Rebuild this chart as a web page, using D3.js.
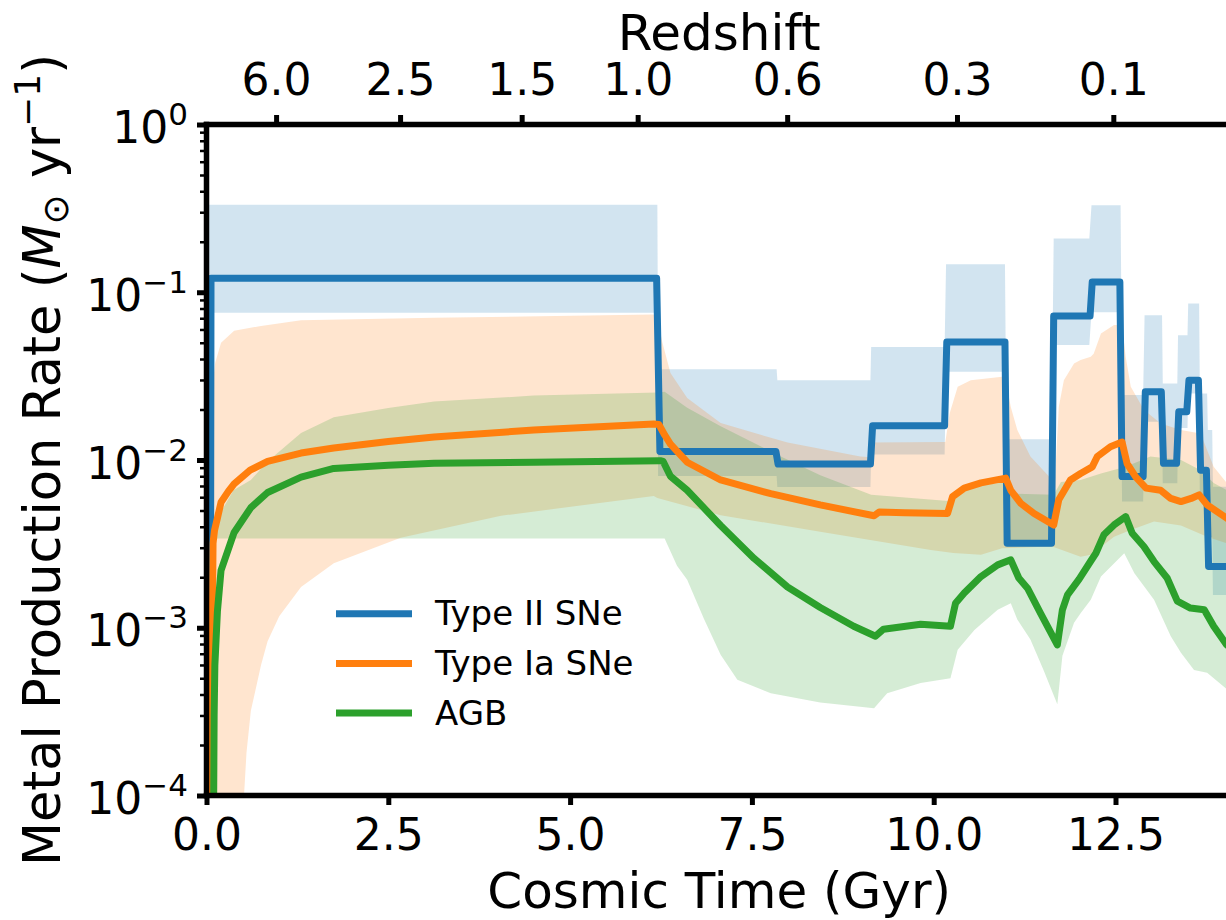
<!DOCTYPE html>
<html>
<head>
<meta charset="utf-8">
<script src="https://cdn.jsdelivr.net/npm/d3@7"></script>
<style>
  html, body { margin: 0; padding: 0; background: #fff; }
  svg { display: block; font-family: "DejaVu Sans", sans-serif; }
</style>
</head>
<body>
<svg id="chart" width="1226" height="920"></svg>
<script>
// Metal production rate (Msun / yr) against cosmic time (Gyr), per enrichment channel.

const timeTicks = [0, 2.5, 5, 7.5, 10, 12.5];
const rateTicks = [1e-4, 1e-3, 1e-2, 1e-1, 1];
const redshiftLabels = ["6.0", "2.5", "1.5", "1.0", "0.6", "0.3", "0.1"];
const redshiftAges = [0.957, 2.662, 4.334, 5.929, 7.985, 10.32, 12.47];
const seriesNames = ["Type II SNe", "Type Ia SNe", "AGB"];
const seriesColors = ["#1f77b4", "#ff7f0e", "#2ca02c"];

// Type II SNe: median rate and spread, [time, rate]
const snIIRate = [
  [0.045, 1e-6], [0.062, 0.121], [6.19, 0.121], [6.235, 0.01125], [7.83, 0.01125],
  [7.86, 0.00946], [9.13, 0.00946], [9.16, 0.016], [10.15, 0.016], [10.18, 0.0506],
  [10.98, 0.0506], [11.01, 0.00319], [11.62, 0.00319], [11.65, 0.0721], [12.15, 0.0721],
  [12.18, 0.115], [12.56, 0.115], [12.59, 0.00796], [12.88, 0.00796], [12.91, 0.0255],
  [13.13, 0.0255], [13.16, 0.00955], [13.34, 0.00955], [13.37, 0.0194], [13.48, 0.0194],
  [13.51, 0.0299], [13.64, 0.0299], [13.67, 0.0087], [13.75, 0.0087], [13.78, 0.00232],
  [14.3, 0.00232]
];
const snIIUpper = [
  [0, 0.332], [6.2, 0.332], [6.21, 0.0348], [7.84, 0.0348], [7.85, 0.0299], [9.13, 0.0299],
  [9.14, 0.0471], [10.15, 0.0471], [10.17, 0.147], [10.98, 0.147], [11.0, 0.0133],
  [11.62, 0.0133], [11.65, 0.209], [12.14, 0.209], [12.17, 0.33], [12.57, 0.33],
  [12.59, 0.0244], [12.88, 0.0244], [12.9, 0.073], [13.14, 0.073], [13.15, 0.0286],
  [13.35, 0.0286], [13.36, 0.0555], [13.49, 0.0555], [13.5, 0.0857], [13.65, 0.0857],
  [13.66, 0.0249], [13.76, 0.0249], [13.77, 0.0151], [13.83, 0.0151], [13.84, 0.00693],
  [14.3, 0.00693]
];
const snIILower = [
  [0, 0.0755], [6.2, 0.0755], [6.21, 0.00804], [7.84, 0.00804], [7.85, 0.0069], [9.13, 0.0069],
  [9.14, 0.0108], [10.15, 0.0108], [10.17, 0.0336], [10.98, 0.0336], [11.0, 0.00305],
  [11.62, 0.00305], [11.65, 0.0484], [12.14, 0.0484], [12.17, 0.0759], [12.57, 0.0759],
  [12.59, 0.00565], [12.88, 0.00565], [12.9, 0.0169], [13.14, 0.0169], [13.15, 0.00726],
  [13.35, 0.00726], [13.36, 0.0155], [13.49, 0.0155], [13.5, 0.0249], [13.65, 0.0249],
  [13.66, 0.00575], [13.76, 0.00575], [13.77, 0.00347], [13.83, 0.00347], [13.84, 0.00157],
  [14.3, 0.00157]
];

// Type Ia SNe
const snIaRate = [
  [0.07, 6e-5], [0.075, 2.5e-4], [0.08, 1e-3], [0.09, 3.2e-3], [0.11, 3.8e-3], [0.15, 4.5e-3],
  [0.2, 5.6e-3], [0.3, 6.5e-3], [0.38, 7.2e-3], [0.6, 8.7e-3], [0.84, 9.8e-3], [1.3, 1.1e-2],
  [1.75, 1.18e-2], [2.5, 1.29e-2], [3.13, 1.37e-2], [4.5, 1.51e-2], [6.15, 1.64e-2],
  [6.22, 1.63e-2], [6.3, 1.41e-2], [6.38, 1.245e-2], [6.61, 9.7e-3], [7.07, 7.6e-3],
  [7.76, 6.3e-3], [8.44, 5.4e-3], [9.18, 4.65e-3], [9.25, 4.9e-3], [9.6, 4.85e-3],
  [10.19, 4.8e-3], [10.26, 6.05e-3], [10.42, 6.8e-3], [10.65, 7.3e-3], [10.99, 7.8e-3],
  [11.06, 6.6e-3], [11.2, 5.5e-3], [11.38, 4.8e-3], [11.65, 4.1e-3], [11.72, 5.8e-3],
  [11.88, 7.6e-3], [12.02, 8.3e-3], [12.18, 9.1e-3], [12.25, 1.05e-2], [12.43, 1.2e-2],
  [12.59, 1.28e-2], [12.66, 9.5e-3], [12.78, 7.9e-3], [12.92, 6.8e-3], [13.12, 6.6e-3],
  [13.26, 5.9e-3], [13.4, 5.65e-3], [13.54, 5.9e-3], [13.65, 6.2e-3], [13.76, 5.4e-3],
  [14.03, 4.5e-3], [14.3, 4.0e-3]
];
const snIaUpper = [
  [0.02, 3e-4], [0.04, 6.3e-3], [0.07, 2.5e-2], [0.12, 3.8e-2], [0.2, 5e-2], [0.38, 5.9e-2],
  [0.75, 6.3e-2], [1.3, 6.8e-2], [3.13, 7.05e-2], [6.13, 7.36e-2], [6.2, 7.3e-2],
  [6.22, 6.3e-2], [6.27, 5.0e-2], [6.38, 3.3e-2], [6.61, 2.34e-2], [7.07, 1.66e-2],
  [7.99, 1.27e-2], [8.99, 1.05e-2], [9.13, 1.04e-2], [9.15, 1.27e-2], [10.16, 1.28e-2],
  [10.22, 1.9e-2], [10.33, 2.73e-2], [10.51, 2.99e-2], [10.94, 3.13e-2], [10.99, 3.0e-2],
  [11.06, 2.07e-2], [11.15, 1.51e-2], [11.33, 1.05e-2], [11.63, 7.6e-3], [11.67, 8e-3],
  [11.72, 2.07e-2], [11.79, 2.99e-2], [11.93, 3.76e-2], [12.02, 3.94e-2], [12.16, 4.12e-2],
  [12.2, 4.3e-2], [12.3, 5.68e-2], [12.48, 6.37e-2], [12.59, 6.37e-2], [12.64, 4.12e-2],
  [12.71, 2.73e-2], [12.89, 1.99e-2], [13.12, 1.65e-2], [13.4, 1.51e-2], [13.67, 1.44e-2],
  [13.85, 9.1e-3], [14.03, 7.3e-3], [14.3, 6.4e-3]
];
const snIaLower = [
  [0.02, 1e-6], [0.5, 1e-6], [0.51, 9e-5], [0.55, 1.8e-4], [0.61, 3.2e-4], [0.75, 6e-4],
  [0.84, 8.3e-4], [1.0, 1.17e-3], [1.3, 1.75e-3], [1.75, 2.42e-3], [2.67, 3.44e-3],
  [4.05, 4.65e-3], [6.15, 6.1e-3], [6.2, 5.94e-3], [7.07, 4.68e-3], [8.44, 3.74e-3],
  [9.96, 2.91e-3], [10.27, 2.79e-3], [10.65, 2.72e-3], [10.94, 2.98e-3], [11.33, 3.02e-3],
  [11.63, 3.05e-3], [12.02, 2.65e-3], [12.16, 2.72e-3], [12.48, 3.49e-3], [12.71, 3.83e-3],
  [13.03, 4.3e-3], [13.4, 4.07e-3], [13.76, 3.49e-3], [14.03, 3.19e-3], [14.3, 3.0e-3]
];

// AGB stars
const agbRate = [
  [0.095, 5e-5], [0.105, 3e-4], [0.115, 6e-4], [0.15, 1.25e-3], [0.2, 2.2e-3], [0.38, 3.7e-3],
  [0.61, 5.2e-3], [0.84, 6.4e-3], [1.3, 7.9e-3], [1.75, 8.9e-3], [2.5, 9.3e-3], [3.13, 9.55e-3],
  [4.5, 9.7e-3], [6.24, 9.9e-3], [6.28, 9.8e-3], [6.38, 8e-3], [6.61, 6.6e-3], [7.07, 4.07e-3],
  [7.53, 2.59e-3], [7.99, 1.75e-3], [8.44, 1.32e-3], [8.9, 1.02e-3], [9.2, 8.9e-4],
  [9.31, 9.8e-4], [9.82, 1.05e-3], [10.23, 1.02e-3], [10.3, 1.4e-3], [10.42, 1.61e-3],
  [10.65, 2.02e-3], [10.88, 2.37e-3], [11.06, 2.54e-3], [11.17, 1.98e-3], [11.29, 1.72e-3],
  [11.47, 1.22e-3], [11.7, 7.9e-4], [11.77, 1.28e-3], [11.84, 1.57e-3], [12.0, 1.95e-3],
  [12.16, 2.5e-3], [12.23, 2.78e-3], [12.34, 3.58e-3], [12.48, 4.1e-3], [12.64, 4.6e-3],
  [12.73, 3.66e-3], [12.89, 3.05e-3], [13.03, 2.48e-3], [13.21, 1.98e-3], [13.35, 1.44e-3],
  [13.53, 1.31e-3], [13.72, 1.28e-3], [13.85, 1.02e-3], [14.03, 7.9e-4], [14.3, 6.3e-4]
];
const agbUpper = [
  [0.06, 2.6e-3], [0.1, 2.9e-3], [0.15, 4.5e-3], [0.37, 6.6e-3], [0.61, 7.6e-3], [0.84, 9.8e-3],
  [1.3, 1.45e-2], [1.75, 1.8e-2], [2.5, 2.04e-2], [3.13, 2.23e-2], [4.5, 2.42e-2],
  [6.2, 2.53e-2], [6.3, 2.55e-2], [6.61, 2.05e-2], [7.07, 1.59e-2], [7.84, 1.08e-2],
  [8.44, 8.1e-3], [9.14, 6.2e-3], [10.2, 5.7e-3], [10.4, 6.8e-3], [10.99, 7.4e-3],
  [11.05, 6.3e-3], [11.65, 6.2e-3], [11.75, 7.4e-3], [12.02, 7.6e-3], [12.3, 8.3e-3],
  [12.64, 9.1e-3], [12.98, 1.05e-2], [13.4, 1.0e-2], [13.67, 8.7e-3], [13.85, 7.3e-3],
  [14.03, 6.6e-3], [14.3, 6.2e-3]
];
const agbLower = [
  [0.06, 2.6e-3], [0.1, 3.2e-3], [0.15, 3.4e-3], [6.3, 3.4e-3], [6.47, 2.34e-3], [6.61, 1.93e-3],
  [6.84, 1.13e-3], [7.07, 6.9e-4], [7.3, 4.9e-4], [7.76, 4.07e-4], [8.44, 3.58e-4],
  [9.18, 3.31e-4], [9.36, 4.07e-4], [9.82, 4.68e-4], [10.23, 5.0e-4], [10.33, 7.4e-4],
  [10.56, 9.7e-4], [10.88, 1.28e-3], [11.06, 1.4e-3], [11.15, 1.12e-3], [11.33, 8.5e-4],
  [11.51, 5.6e-4], [11.7, 3.5e-4], [11.77, 6.8e-4], [11.93, 1.07e-3], [12.02, 1.22e-3],
  [12.16, 1.47e-3], [12.3, 2.02e-3], [12.62, 2.78e-3], [12.76, 2.11e-3], [13.03, 1.47e-3],
  [13.26, 8.9e-4], [13.4, 7.1e-4], [13.58, 5.6e-4], [13.76, 5.4e-4], [14.03, 4.3e-4],
  [14.3, 4.0e-4]
];

const medianSeries = [snIIRate, snIaRate, agbRate];
const spreadSeries = [[snIIUpper, snIILower], [snIaUpper, snIaLower], [agbUpper, agbLower]];

// ---- layout ----
const plotLeft = 206.5, plotTop = 124.5, plotBottom = 795.5;
const tMax = 14.1, pxPerGyr = 72.72;

const svg = d3.select("#chart");
const x = d3.scaleLinear().domain([0, tMax]).range([plotLeft, plotLeft + pxPerGyr * tMax]);
const y = d3.scaleLog().domain([1e-4, 1]).range([plotBottom, plotTop]);

svg.append("defs").append("clipPath").attr("id", "plotClip")
  .append("rect")
  .attr("x", x(0)).attr("y", y(1))
  .attr("width", x(tMax) - x(0)).attr("height", y(1e-4) - y(1));

const plot = svg.append("g").attr("clip-path", "url(#plotClip)");
const pathGen = d3.line().x(d => x(d[0])).y(d => y(d[1]));

// shaded spreads
spreadSeries.forEach(([upper, lower], i) => {
  plot.append("path")
    .attr("d", pathGen(upper.concat(lower.slice().reverse())) + "Z")
    .attr("fill", seriesColors[i])
    .attr("fill-opacity", 0.2)
    .attr("stroke", "none");
});

// median rates
medianSeries.forEach((pts, i) => {
  plot.append("path")
    .attr("d", pathGen(pts))
    .attr("fill", "none")
    .attr("stroke", seriesColors[i])
    .attr("stroke-width", 7)
    .attr("stroke-linejoin", "round")
    .attr("stroke-linecap", "butt");
});

// ---- axes ----
const tickFont = 44, titleFont = 50;

function styleAxis(g, width) {
  g.attr("font-family", null).attr("font-size", null);
  g.select(".domain").remove();
  g.selectAll(".tick line").attr("stroke", "#000").attr("stroke-width", width);
  g.selectAll(".tick text").attr("fill", "#000").attr("font-size", tickFont);
}

// bottom: cosmic time
const xAxis = svg.append("g").attr("transform", `translate(0,${plotBottom})`)
  .call(d3.axisBottom(x).tickValues(timeTicks).tickFormat(d3.format(".1f"))
    .tickSize(9.5).tickSizeOuter(0));
styleAxis(xAxis, 5);
xAxis.selectAll(".tick text").attr("y", 54.5).attr("dy", null);

// top: redshift at the matching cosmic times
const zAxis = svg.append("g").attr("transform", `translate(0,${plotTop})`)
  .call(d3.axisTop(x).tickValues(redshiftAges).tickFormat((d, i) => redshiftLabels[i])
    .tickSize(9.5).tickSizeOuter(0));
styleAxis(zAxis, 5);
zAxis.selectAll(".tick text").attr("y", -29.5).attr("dy", null);

// left: log rate, minor ticks first
const minorTicks = [];
for (let e = -4; e < 0; e++) for (let m = 2; m <= 9; m++) minorTicks.push(m * Math.pow(10, e));
const yMinor = svg.append("g").attr("transform", `translate(${plotLeft},0)`)
  .call(d3.axisLeft(y).tickValues(minorTicks).tickFormat("").tickSize(6.5).tickSizeOuter(0));
styleAxis(yMinor, 2.5);

const yAxis = svg.append("g").attr("transform", `translate(${plotLeft},0)`)
  .call(d3.axisLeft(y).tickValues(rateTicks).tickSize(9.5).tickSizeOuter(0));
styleAxis(yAxis, 5);
yAxis.selectAll(".tick text").each(function (d) {
  const e = Math.round(Math.log10(d));
  const t = d3.select(this).text(null)
    .attr("x", -18.5).attr("y", 18).attr("dy", null).attr("text-anchor", "end");
  t.append("tspan").text("10");
  t.append("tspan").attr("font-size", 31).attr("dy", -18)
    .text(e === 0 ? "0" : "\u2212" + (-e));
});

// spines
const spines = svg.append("g").attr("stroke", "#000").attr("stroke-width", 5.5)
  .attr("stroke-linecap", "square");
spines.append("line").attr("x1", x(0)).attr("x2", x(0)).attr("y1", y(1)).attr("y2", y(1e-4));
spines.append("line").attr("x1", x(0)).attr("x2", x(tMax)).attr("y1", y(1e-4)).attr("y2", y(1e-4));
spines.append("line").attr("x1", x(0)).attr("x2", x(tMax)).attr("y1", y(1)).attr("y2", y(1));
spines.append("line").attr("x1", x(tMax)).attr("x2", x(tMax)).attr("y1", y(1)).attr("y2", y(1e-4));

// axis titles
const midX = (x(0) + x(tMax)) / 2;
svg.append("text").attr("x", midX).attr("y", 908).attr("text-anchor", "middle")
  .attr("font-size", titleFont).text("Cosmic Time (Gyr)");
svg.append("text").attr("x", midX).attr("y", 50).attr("text-anchor", "middle")
  .attr("font-size", titleFont).text("Redshift");

const yTitle = svg.append("text")
  .attr("transform", `translate(60,${(plotTop + plotBottom) / 2}) rotate(-90)`)
  .attr("text-anchor", "middle").attr("font-size", 51);
yTitle.append("tspan").text("Metal Production Rate (");
yTitle.append("tspan").attr("font-style", "italic").text("M");
yTitle.append("tspan").attr("font-size", 36).attr("dy", 8).text("\u2299");
yTitle.append("tspan").attr("dy", -8).text(" yr");
yTitle.append("tspan").attr("font-size", 36).attr("dy", -20).text("\u22121");
yTitle.append("tspan").attr("dy", 20).text(")");

// legend
const legend = svg.append("g").attr("transform", "translate(336,613.8)");
seriesNames.forEach((name, i) => {
  const g = legend.append("g").attr("transform", `translate(0,${i * 49.6})`);
  g.append("line").attr("x1", 0).attr("x2", 76).attr("y1", 0).attr("y2", 0)
    .attr("stroke", seriesColors[i]).attr("stroke-width", 7);
  g.append("text").attr("x", 99).attr("y", 11.5).attr("font-size", 34).text(name);
});
</script>
</body>
</html>
